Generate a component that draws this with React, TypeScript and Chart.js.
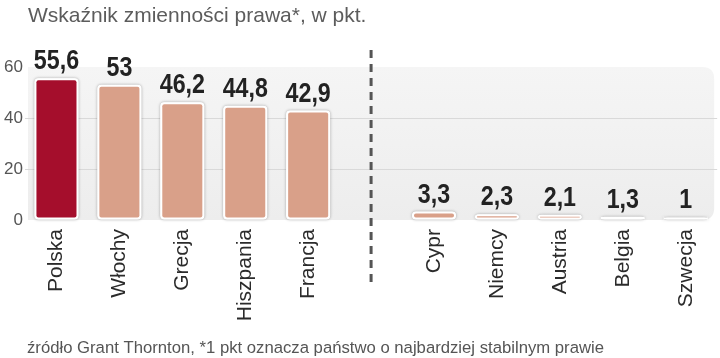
import React, { useEffect, useRef } from "react";
import { Chart, registerables } from "chart.js";

Chart.register(...registerables);

const categories = ["Polska", "Włochy", "Grecja", "Hiszpania", "Francja", "", "Cypr", "Niemcy", "Austria", "Belgia", "Szwecja"];
const values: (number | null)[] = [55.6, 53, 46.2, 44.8, 42.9, null, 3.3, 2.3, 2.1, 1.3, 1];
const highlightCategory = "Polska";
const yTickValues = [0, 20, 40, 60];
const titleText = "Wskaźnik zmienności prawa*, w pkt.";
const footerText = "źródło Grant Thornton, *1 pkt oznacza państwo o najbardziej stabilnym prawie";
const separatorCategoryIndex = 5;

const HIGHLIGHT = "#a50e2c";
const NORMAL = "#d9a089";
const LABEL_FONT = "bold 27px 'Liberation Sans', Arial, sans-serif";
const LABEL_SCALE_X = 0.86;

function roundRectPath(ctx: CanvasRenderingContext2D, x: number, y: number, w: number, h: number, rTL: number, rTR: number, rBR: number, rBL: number) {
  ctx.beginPath();
  ctx.moveTo(x + rTL, y);
  ctx.lineTo(x + w - rTR, y);
  ctx.quadraticCurveTo(x + w, y, x + w, y + rTR);
  ctx.lineTo(x + w, y + h - rBR);
  ctx.quadraticCurveTo(x + w, y + h, x + w - rBR, y + h);
  ctx.lineTo(x + rBL, y + h);
  ctx.quadraticCurveTo(x, y + h, x, y + h - rBL);
  ctx.lineTo(x, y + rTL);
  ctx.quadraticCurveTo(x, y, x + rTL, y);
  ctx.closePath();
}

const decorPlugin = {
  id: "decor",
  beforeDraw(chart: any) {
    const { ctx, chartArea } = chart;
    const { left, right, top, bottom } = chartArea;
    ctx.save();
    const g = ctx.createLinearGradient(0, top, 0, bottom);
    g.addColorStop(0, "#f5f5f5");
    g.addColorStop(1, "#ededed");
    ctx.fillStyle = g;
    roundRectPath(ctx, left + 3, top, right - left - 6, bottom - top, 0, 12, 12, 0);
    ctx.fill();
    ctx.restore();
  },
  beforeDatasetsDraw(chart: any) {
    const { ctx } = chart;
    const meta = chart.getDatasetMeta(0);
    ctx.save();
    ctx.shadowColor = "rgba(0,0,0,0.35)";
    ctx.shadowBlur = 3;
    ctx.fillStyle = "#ffffff";
    meta.data.forEach((bar: any, i: number) => {
      if (values[i] == null) return;
      const { x, y, base, width } = bar.getProps(["x", "y", "base", "width"], true);
      roundRectPath(ctx, x - width / 2, y, width, base - y, 4, 4, 4, 4);
      ctx.fill();
    });
    ctx.restore();
  },
  afterDatasetsDraw(chart: any) {
    const { ctx } = chart;
    const meta = chart.getDatasetMeta(0);
    meta.data.forEach((bar: any, i: number) => {
      const v = values[i];
      if (v == null) return;
      const { x, y } = bar.getProps(["x", "y"], true);
      ctx.save();
      ctx.font = LABEL_FONT;
      ctx.fillStyle = "#222222";
      ctx.textAlign = "center";
      ctx.textBaseline = "alphabetic";
      ctx.translate(x, y - 9);
      ctx.scale(LABEL_SCALE_X, 1);
      ctx.fillText(String(v).replace(".", ","), 0, 0);
      ctx.restore();
    });
  },
  afterDraw(chart: any) {
    const { ctx } = chart;
    const xScale = chart.scales.x;
    ctx.save();
    // dashed separator
    const sx = xScale.getPixelForValue(separatorCategoryIndex);
    ctx.strokeStyle = "#555555";
    ctx.lineWidth = 3;
    ctx.setLineDash([8, 6]);
    ctx.beginPath();
    ctx.moveTo(sx, 50);
    ctx.lineTo(sx, 284);
    ctx.stroke();
    ctx.setLineDash([]);
    // title
    ctx.fillStyle = "#5c5c5c";
    ctx.font = "21px 'Liberation Sans', Arial, sans-serif";
    ctx.textAlign = "left";
    ctx.textBaseline = "alphabetic";
    ctx.fillText(titleText, 28, 22);
    // footer
    ctx.font = "16.7px 'Liberation Sans', Arial, sans-serif";
    ctx.fillStyle = "#555555";
    ctx.fillText(footerText, 27, 353);
    ctx.restore();
  },
};

export default function App() {
  const ref = useRef<HTMLCanvasElement | null>(null);
  useEffect(() => {
    document.body.style.margin = "0";
    const canvas = ref.current;
    if (!canvas) return;
    const chart = new Chart(canvas, {
      type: "bar",
      data: {
        labels: categories,
        datasets: [
          {
            data: values,
            backgroundColor: categories.map((c) => (c === highlightCategory ? HIGHLIGHT : NORMAL)),
            borderColor: "#ffffff",
            borderWidth: 2,
            borderRadius: 4,
            borderSkipped: false,
            barPercentage: 0.7,
            categoryPercentage: 1,
          },
        ],
      },
      options: {
        responsive: false,
        animation: false,
        events: [],
        layout: { padding: { top: 67, left: 0, right: 2, bottom: 0 } },
        plugins: {
          legend: { display: false },
          tooltip: { enabled: false },
          title: { display: false },
        },
        scales: {
          x: {
            grid: { display: false, drawTicks: false },
            border: { display: false },
            ticks: {
              minRotation: 90,
              maxRotation: 90,
              autoSkip: false,
              padding: 9,
              color: "#2b2b2b",
              font: { family: "'Liberation Sans', Arial, sans-serif", size: 21 },
            },
            afterFit(scale: any) {
              scale.height = 138;
            },
          },
          y: {
            min: 0,
            max: 60,
            afterBuildTicks(scale: any) {
              scale.ticks = yTickValues.map((v) => ({ value: v }));
            },
            grid: {
              drawTicks: false,
              color: (c: any) => (c.tick && (c.tick.value === 20 || c.tick.value === 40) ? "#d9d9d9" : "rgba(0,0,0,0)"),
              lineWidth: 1,
            },
            border: { display: false },
            ticks: {
              padding: 2,
              color: "#555555",
              font: { family: "'Liberation Sans', Arial, sans-serif", size: 17 },
            },
            afterFit(scale: any) {
              scale.width = 25;
            },
          },
        },
      },
      plugins: [decorPlugin],
    });
    return () => chart.destroy();
  }, []);
  return <canvas ref={ref} width={720} height={358} style={{ display: "block" }} />;
}
